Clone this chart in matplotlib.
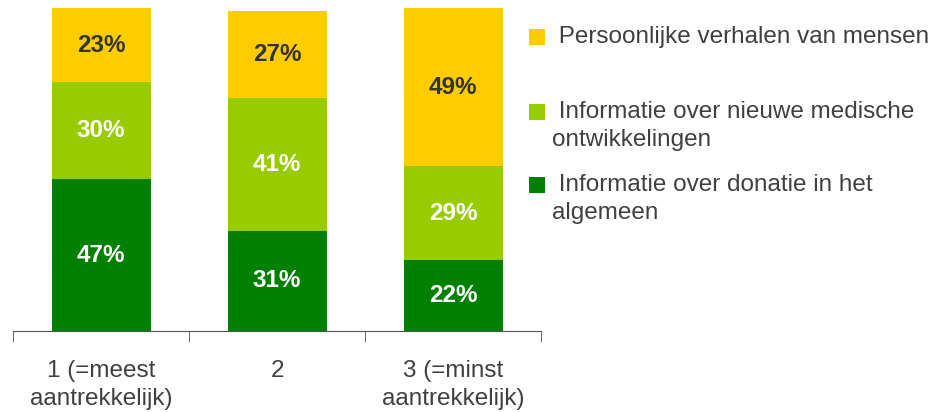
import matplotlib.pyplot as plt
from matplotlib.patches import Rectangle

# Aantrekkelijkheid van soorten informatie, per rangorde (percentages)
categories = ['1 (=meest\naantrekkelijk)', '2', '3 (=minst\naantrekkelijk)']
donatie = [47, 31, 22]
medisch = [30, 41, 29]
verhalen = [23, 27, 49]

series = [
    (donatie, '#008000', 'white', ' Informatie over donatie in het\nalgemeen'),
    (medisch, '#99CC00', 'white', ' Informatie over nieuwe medische\nontwikkelingen'),
    (verhalen, '#FFCC00', '#333333', ' Persoonlijke verhalen van mensen'),
]

plt.rcParams['font.family'] = ['Liberation Sans', 'DejaVu Sans']

fig = plt.figure(figsize=(9.32, 4.12), dpi=100)
ax = fig.add_axes([13 / 932, 81 / 412, 528 / 932, 323 / 412])

x = range(len(categories))
bottom = [0] * len(categories)
for vals, color, tcolor, label in series:
    bars = ax.bar(x, vals, width=0.5625, bottom=bottom, color=color, linewidth=0)
    for b, v in zip(bars, vals):
        ax.text(b.get_x() + b.get_width() / 2, b.get_y() + b.get_height() / 2,
                f'{v}%', ha='center', va='center', color=tcolor,
                fontsize=17.5, fontweight='bold')
    bottom = [a + b for a, b in zip(bottom, vals)]

ax.set_xlim(-0.5, 2.5)
ax.set_ylim(0, 100)
ax.set_yticks([])
for s in ['left', 'right', 'top']:
    ax.spines[s].set_visible(False)
ax.spines['bottom'].set_color('#555555')

ax.set_xticks(list(x))
ax.set_xticklabels(categories, fontsize=17.5, color='#404040', linespacing=1.35)
ax.tick_params(axis='x', which='major', length=0, pad=21)
ax.set_xticks([-0.5, 0.5, 1.5, 2.5], minor=True)
ax.tick_params(axis='x', which='minor', direction='out', length=8, color='#555555')

# legenda rechts
legend_rows = [(37, series[2]), (112, series[1]), (185, series[0])]
for ypx, (vals, color, tcolor, label) in legend_rows:
    fig.patches.append(Rectangle((529 / 932, 1 - (ypx + 8) / 412), 16 / 932, 16 / 412,
                                 transform=fig.transFigure, color=color, linewidth=0))
    fig.text(552 / 932, 1 - (ypx - 11) / 412, label, ha='left', va='top',
             fontsize=17.5, color='#404040', linespacing=1.35)

fig.savefig('out.png', dpi=100)
